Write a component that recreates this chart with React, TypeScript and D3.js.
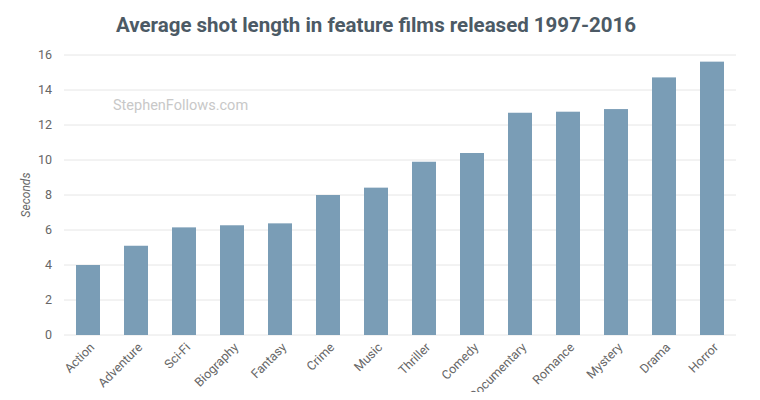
import React, { useEffect, useRef } from 'react';
import * as d3 from 'd3';

const genres = [
  'Action', 'Adventure', 'Sci-Fi', 'Biography', 'Fantasy', 'Crime', 'Music',
  'Thriller', 'Comedy', 'Documentary', 'Romance', 'Mystery', 'Drama', 'Horror',
];
const shotLength = [4.0, 5.1, 6.15, 6.27, 6.38, 8.0, 8.42, 9.9, 10.4, 12.7, 12.76, 12.91, 14.72, 15.62];
const yTicks = [0, 2, 4, 6, 8, 10, 12, 14, 16];

const title = 'Average shot length in feature films released 1997-2016';
const yLabel = 'Seconds';

const width = 760;
const height = 400;

const App: React.FC = () => {
  const svgRef = useRef<SVGSVGElement>(null);

  useEffect(() => {
    if (!svgRef.current) return;
    const svg = d3.select(svgRef.current);
    svg.selectAll('*').remove();

    const margin = { top: 55, right: 24, bottom: 65, left: 64 };
    const innerWidth = width - margin.left - margin.right;
    const innerHeight = height - margin.top - margin.bottom;
    const font = 'Roboto, "Noto Sans", sans-serif';

    const g = svg.append('g').attr('transform', `translate(${margin.left},${margin.top})`);

    const x = d3.scaleBand().domain(genres).range([0, innerWidth]).paddingInner(0.5).paddingOuter(0.25);
    const y = d3.scaleLinear().domain([0, 16]).range([innerHeight, 0]);

    // gridlines
    g.append('g')
      .selectAll('line')
      .data(yTicks)
      .enter()
      .append('line')
      .attr('x1', 0)
      .attr('x2', innerWidth)
      .attr('y1', d => y(d))
      .attr('y2', d => y(d))
      .attr('stroke', '#e6e6e6')
      .attr('stroke-width', 1);

    // y tick labels
    g.append('g')
      .selectAll('text')
      .data(yTicks)
      .enter()
      .append('text')
      .attr('x', -12)
      .attr('y', d => y(d))
      .attr('dy', '0.35em')
      .attr('text-anchor', 'end')
      .attr('fill', '#666')
      .style('font-family', font)
      .style('font-size', '12.5px')
      .text(d => d);

    // watermark
    g.append('text')
      .attr('x', 49)
      .attr('y', 55)
      .attr('fill', '#c8c8c8')
      .style('font-family', font)
      .style('font-size', '14.5px')
      .text('StephenFollows.com');

    // bars
    g.selectAll('.bar')
      .data(shotLength)
      .enter()
      .append('rect')
      .attr('class', 'bar')
      .attr('x', (_, i) => x(genres[i])!)
      .attr('width', x.bandwidth())
      .attr('y', d => y(d))
      .attr('height', d => innerHeight - y(d))
      .attr('fill', '#7a9db6');

    // x labels
    g.append('g')
      .selectAll('text')
      .data(genres)
      .enter()
      .append('text')
      .attr('transform', d => `translate(${x(d)! + x.bandwidth() / 2 + 4},${innerHeight + 10}) rotate(-45)`)
      .attr('text-anchor', 'end')
      .attr('dy', '0.35em')
      .attr('fill', '#666')
      .style('font-family', font)
      .style('font-size', '12.5px')
      .text(d => d);

    // y axis label
    svg.append('text')
      .attr('transform', `translate(30,195) rotate(-90)`)
      .attr('text-anchor', 'middle')
      .attr('fill', '#666')
      .style('font-family', font)
      .style('font-size', '12px')
      .style('font-style', 'italic')
      .text(yLabel);

    // title
    svg.append('text')
      .attr('x', 376)
      .attr('y', 32)
      .attr('text-anchor', 'middle')
      .attr('fill', '#4c5a65')
      .style('font-family', font)
      .style('font-size', '20.5px')
      .style('font-weight', 'bold')
      .text(title);
  }, []);

  return <svg ref={svgRef} width={width} height={height} style={{ display: 'block', margin: -8 }} />;
};

export default App;
